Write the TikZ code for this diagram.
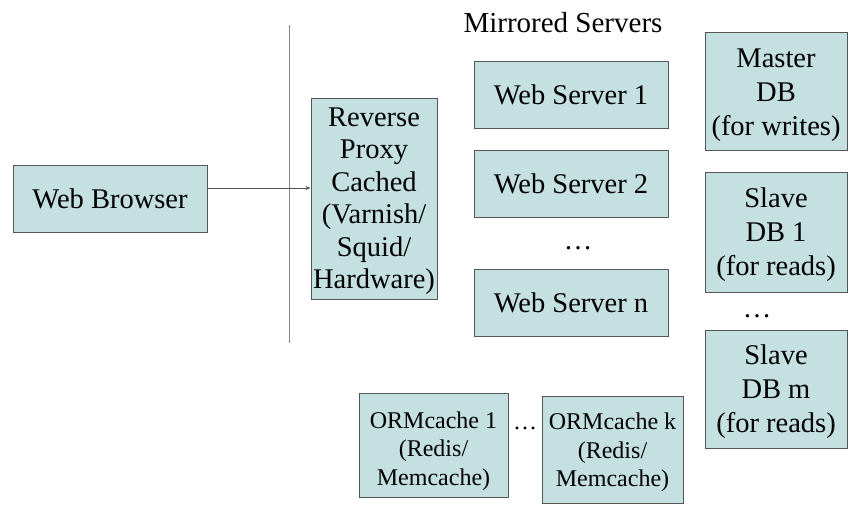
\documentclass[tikz,border=0pt]{standalone}
\usepackage{fontspec}
\setmainfont{Liberation Serif}
\usetikzlibrary{arrows.meta}
\definecolor{boxfill}{HTML}{C4E0E1}
\definecolor{boxline}{HTML}{555555}
\definecolor{sepline}{HTML}{888888}
\newcommand\mlines[2][0pt]{\raisebox{-#1}[\height][\depth]{\begin{tabular}{@{}c@{}}#2\end{tabular}}}
\begin{document}
\begin{tikzpicture}[x=1pt,y=-1pt,
  box/.style={draw=boxline,fill=boxfill,line width=1pt,inner sep=0pt,
    font=\fontsize{28.5}{34}\selectfont},
  proxybox/.style={box,font=\fontsize{28.5}{32.4}\selectfont},
  smallbox/.style={box,font=\fontsize{24}{28.5}\selectfont},
  plain/.style={font=\fontsize{28.5}{34}\selectfont,inner sep=0pt}]
\useasboundingbox (0,0) rectangle (860,530);
\node[box,minimum width=194pt,minimum height=67pt] (wb) at (110,198.5) {\mlines[3pt]{Web Browser}};
\node[proxybox,minimum width=126pt,minimum height=201pt] (rp) at (374,198.5) {\mlines[2.5pt]{Reverse\\Proxy\\Cached\\(Varnish/\\Squid/\\Hardware)}};
\node[plain,font=\fontsize{29}{34}\selectfont] (ms) at (563,23) {Mirrored Servers};
\node[box,minimum width=194pt,minimum height=67pt] (ws1) at (571,94.5) {\mlines[3pt]{Web Server 1}};
\node[box,minimum width=194pt,minimum height=67pt] (ws2) at (571,183.5) {\mlines[3pt]{Web Server 2}};
\node[plain] (wdots) at (578,248) {…};
\node[box,minimum width=194pt,minimum height=67pt] (wsn) at (571,302.5) {\mlines[3pt]{Web Server n}};
\node[box,minimum width=142pt,minimum height=118pt] (mdb) at (776,91) {\mlines[4pt]{Master\\DB\\(for writes)}};
\node[box,minimum width=142pt,minimum height=120pt] (sdb1) at (776,232) {\mlines[3pt]{Slave\\DB 1\\(for reads)}};
\node[plain] (ddots) at (757,316) {…};
\node[box,minimum width=142pt,minimum height=118pt] (sdbm) at (776,389) {\mlines[3pt]{Slave\\DB m\\(for reads)}};
\node[smallbox,minimum width=149pt,minimum height=104pt] (orm1) at (433.5,445) {\mlines[6pt]{ORMcache 1\\(Redis/\\Memcache)}};
\node[plain,font=\fontsize{24}{28.5}\selectfont] (odots) at (525,428) {…};
\node[smallbox,minimum width=141pt,minimum height=107pt] (ormk) at (612.5,449.5) {\mlines[3pt]{ORMcache k\\(Redis/\\Memcache)}};
\coordinate (vtop) at (289,25);
\coordinate (vbot) at (289,343);
\draw[sepline,line width=1pt] (vtop) -- (vbot);
\draw[boxline,line width=0.8pt,-{Stealth[length=5pt,width=4pt]}] ([yshift=10.5pt]wb.east) -- ([yshift=10.5pt]rp.west);
\end{tikzpicture}
\end{document}
